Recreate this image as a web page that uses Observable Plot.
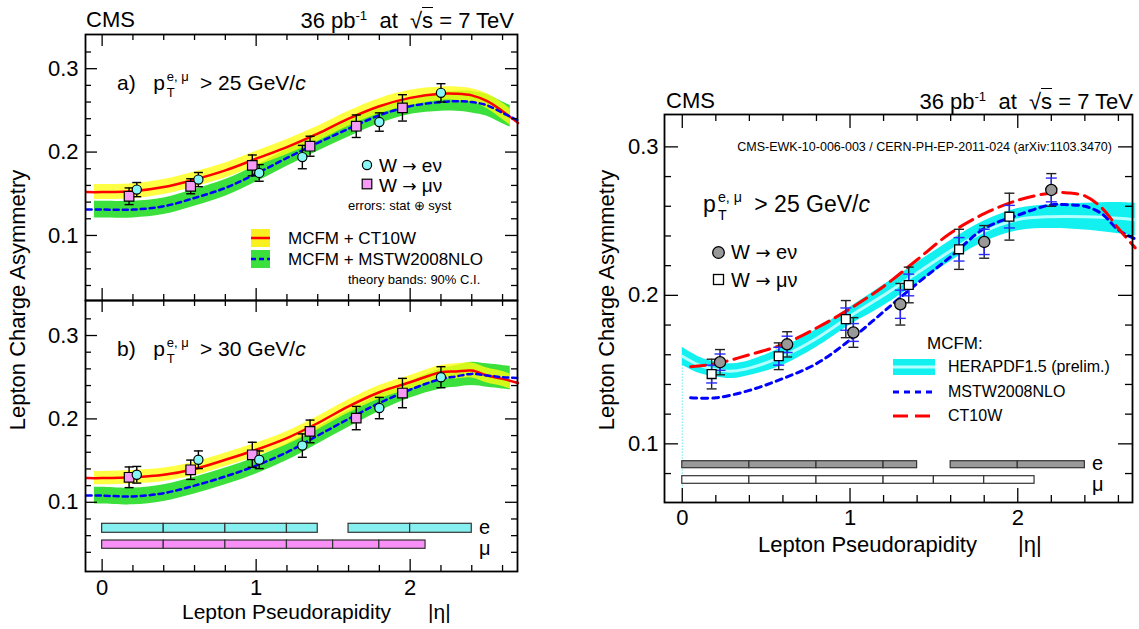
<!DOCTYPE html>
<html><head><meta charset="utf-8">
<script src="https://cdn.jsdelivr.net/npm/d3@7"></script>
<script src="https://cdn.jsdelivr.net/npm/@observablehq/plot@0.6"></script>
<style>
body{margin:0;background:#fff;}
#wrap{position:relative;width:1139px;height:629px;overflow:hidden;background:#fff;font-family:"Liberation Sans",Arial,Helvetica,sans-serif;color:#000;}
.t{position:absolute;white-space:nowrap;line-height:1;}
.plot{position:absolute;}
.st{display:inline-block;position:relative;font-size:0.62em;width:2.7em;height:1em;}
.st .sup{position:absolute;left:0.15em;top:-0.52em;}
.st .sub{position:absolute;left:0.15em;top:0.75em;}
.ar{font-family:"DejaVu Sans",sans-serif;font-size:0.9em;}
</style></head><body><div id="wrap"></div>
<script>
// ---------------- DATA ----------------
// measured points (pT > 25 GeV/c) — shared by panel a) and right panel
const eEta = [0.225, 0.625, 1.02, 1.30, 1.80, 2.20];
const muEta = [0.175, 0.575, 0.975, 1.35, 1.65, 1.95];
const eAsym25 = [0.155, 0.167, 0.175, 0.194, 0.236, 0.271];
const eErr25 = [0.0085, 0.0085, 0.010, 0.014, 0.011, 0.011];
const eStat25 = [0.0055, 0.0055, 0.006, 0.0095, 0.0085, 0.008];
const muAsym25 = [0.147, 0.159, 0.184, 0.207, 0.231, 0.253];
const muErr25 = [0.010, 0.009, 0.0125, 0.012, 0.0135, 0.0158];
const muStat25 = [0.006, 0.006, 0.0075, 0.0073, 0.0079, 0.0076];
// pT > 30 GeV/c
const eAsym30 = [0.133, 0.151, 0.151, 0.168, 0.213, 0.250];
const eErr30 = [0.010, 0.0106, 0.0106, 0.014, 0.0128, 0.0126];
const muAsym30 = [0.130, 0.139, 0.157, 0.185, 0.201, 0.231];
const muErr30 = [0.0124, 0.0116, 0.015, 0.0136, 0.014, 0.0176];

// theory lines (left panels)
const etaLine = [-0.1, 0, 0.2, 0.4, 0.6, 0.8, 1.0, 1.2, 1.4, 1.6, 1.8, 2.0, 2.2, 2.3, 2.4, 2.5, 2.6, 2.7];
const ct10A = [0.152, 0.152, 0.153, 0.158, 0.167, 0.178, 0.192, 0.206, 0.222, 0.240, 0.255, 0.265, 0.270, 0.270, 0.268, 0.261, 0.249, 0.235];
const mstwA = [0.131, 0.131, 0.131, 0.135, 0.145, 0.157, 0.174, 0.193, 0.211, 0.228, 0.244, 0.255, 0.260, 0.261, 0.260, 0.256, 0.247, 0.238];
const ct10B = [0.129, 0.129, 0.130, 0.133, 0.140, 0.151, 0.163, 0.177, 0.195, 0.215, 0.232, 0.244, 0.256, 0.257, 0.258, 0.252, 0.248, 0.243];
const mstwB = [0.108, 0.108, 0.107, 0.111, 0.120, 0.131, 0.144, 0.160, 0.180, 0.200, 0.219, 0.235, 0.248, 0.251, 0.254, 0.252, 0.250, 0.249];
// theory bands (90% C.L.)
const etaBand = [-0.05, 0, 0.2, 0.4, 0.6, 0.8, 1.0, 1.2, 1.4, 1.6, 1.8, 2.0, 2.2, 2.3, 2.4, 2.5, 2.6, 2.65];
const ct10LoA = [0.143, 0.143, 0.144, 0.149, 0.158, 0.169, 0.183, 0.197, 0.213, 0.231, 0.246, 0.256, 0.262, 0.262, 0.260, 0.252, 0.239, 0.232];
const ct10HiA = [0.161, 0.161, 0.162, 0.167, 0.176, 0.187, 0.201, 0.215, 0.231, 0.249, 0.264, 0.274, 0.278, 0.278, 0.276, 0.270, 0.259, 0.252];
const mstwLoA = [0.121, 0.121, 0.121, 0.125, 0.135, 0.147, 0.164, 0.183, 0.201, 0.218, 0.234, 0.245, 0.249, 0.249, 0.247, 0.243, 0.234, 0.230];
const mstwHiA = [0.141, 0.141, 0.141, 0.145, 0.155, 0.167, 0.184, 0.203, 0.221, 0.238, 0.254, 0.265, 0.271, 0.273, 0.273, 0.269, 0.260, 0.256];
const ct10LoB = [0.121, 0.121, 0.122, 0.125, 0.132, 0.143, 0.155, 0.169, 0.187, 0.207, 0.224, 0.236, 0.248, 0.248, 0.249, 0.243, 0.239, 0.236];
const ct10HiB = [0.137, 0.137, 0.138, 0.141, 0.148, 0.159, 0.171, 0.185, 0.203, 0.223, 0.240, 0.252, 0.264, 0.266, 0.267, 0.261, 0.257, 0.254];
const mstwLoB = [0.098, 0.098, 0.097, 0.101, 0.110, 0.121, 0.134, 0.150, 0.170, 0.190, 0.209, 0.225, 0.236, 0.238, 0.240, 0.238, 0.236, 0.235];
const mstwHiB = [0.118, 0.118, 0.117, 0.121, 0.130, 0.141, 0.154, 0.170, 0.190, 0.210, 0.229, 0.245, 0.260, 0.264, 0.268, 0.266, 0.264, 0.263];

// right panel theory
const etaLineR = [0.05, 0.2, 0.4, 0.6, 0.8, 1.0, 1.2, 1.4, 1.6, 1.8, 2.0, 2.2, 2.3, 2.4, 2.5, 2.6, 2.7];
const ct10R = [0.152, 0.154, 0.160, 0.167, 0.178, 0.191, 0.206, 0.224, 0.242, 0.255, 0.264, 0.269, 0.269, 0.267, 0.259, 0.245, 0.232];
const mstwR = [0.131, 0.131, 0.136, 0.144, 0.154, 0.170, 0.189, 0.208, 0.226, 0.245, 0.254, 0.261, 0.261, 0.260, 0.255, 0.244, 0.238];
const heraEta = [0, 0.1, 0.2, 0.3, 0.4, 0.6, 0.8, 1.0, 1.2, 1.4, 1.6, 1.8, 2.0, 2.2, 2.4, 2.6, 2.7];
const heraMid = [0.159, 0.153, 0.150, 0.149, 0.151, 0.159, 0.171, 0.186, 0.200, 0.215, 0.230, 0.243, 0.251, 0.253, 0.253, 0.252, 0.251];
const heraLo = [0.153, 0.1475, 0.145, 0.144, 0.146, 0.153, 0.165, 0.180, 0.193, 0.208, 0.223, 0.236, 0.2435, 0.245, 0.244, 0.2415, 0.240];
const heraHi = [0.165, 0.1585, 0.155, 0.154, 0.156, 0.165, 0.177, 0.192, 0.207, 0.222, 0.237, 0.250, 0.2585, 0.261, 0.262, 0.2625, 0.262];

// eta bins
const eBinLo = [0, 0.4, 0.8, 1.2, 1.6, 2.0];
const eBinHi = [0.4, 0.8, 1.2, 1.4, 2.0, 2.4];
const muBinLo = [0, 0.4, 0.8, 1.2, 1.5, 1.8];
const muBinHi = [0.4, 0.8, 1.2, 1.5, 1.8, 2.1];

// ticks
const xMajorTicks = [0, 1, 2];
const xMinorTicks = [0.2, 0.4, 0.6, 0.8, 1.2, 1.4, 1.6, 1.8, 2.2, 2.4, 2.6];
const yMajorTicks = [0.1, 0.2, 0.3];
const yMinorTicksL = [0.04, 0.06, 0.08, 0.12, 0.14, 0.16, 0.18, 0.22, 0.24, 0.26, 0.28, 0.32];
const yMinorTicksR = [0.08, 0.12, 0.14, 0.16, 0.18, 0.22, 0.24, 0.26, 0.28];

// ---------------- BUILD ----------------
const FONT = '"Liberation Sans", Arial, Helvetica, sans-serif';
const curve = "catmull-rom";
const wrap = document.getElementById("wrap");

const pts = (eta, y, err, stat) => eta.map((x, i) => ({eta: x, y: y[i], err: err[i], stat: stat ? stat[i] : 0}));
const lineRows = (eta, a, b) => eta.map((x, i) => ({eta: x, a: a[i], b: b[i]}));
const bandRows = (eta, l1, h1, l2, h2) => eta.map((x, i) => ({eta: x, l1: l1[i], h1: h1[i], l2: l2[i], h2: h2[i]}));
const bins = (lo, hi) => lo.map((x, i) => ({x1: x, x2: hi[i]}));

const capSym = {draw(ctx, size) { const w = Math.sqrt(size / Math.PI); ctx.moveTo(-w, 0); ctx.lineTo(w, 0); }};

function errMarks(data, key, color, sw, capR) {
  return [
    Plot.ruleX(data, {x: "eta", y1: d => d.y - d[key], y2: d => d.y + d[key], stroke: color, strokeWidth: sw}),
    Plot.dot(data, {x: "eta", y: d => d.y - d[key], symbol: capSym, r: capR, stroke: color, strokeWidth: sw, fill: "none"}),
    Plot.dot(data, {x: "eta", y: d => d.y + d[key], symbol: capSym, r: capR, stroke: color, strokeWidth: sw, fill: "none"})
  ];
}
function frameTicks(yMinor, pw, ph, big, small) {
  const s = {stroke: "black", strokeWidth: 1.3};
  return [
    Plot.tickX(xMajorTicks, {x: d => d, insetTop: ph - big, ...s}),
    Plot.tickX(xMajorTicks, {x: d => d, insetBottom: ph - big, ...s}),
    Plot.tickX(xMinorTicks, {x: d => d, insetTop: ph - small, ...s}),
    Plot.tickX(xMinorTicks, {x: d => d, insetBottom: ph - small, ...s}),
    Plot.tickY(yMajorTicks, {y: d => d, insetRight: pw - big, ...s}),
    Plot.tickY(yMajorTicks, {y: d => d, insetLeft: pw - big, ...s}),
    Plot.tickY(yMinor, {y: d => d, insetRight: pw - small, ...s}),
    Plot.tickY(yMinor, {y: d => d, insetLeft: pw - small, ...s})
  ];
}
function place(el, left, top) { el.classList.add("plot"); el.style.left = left + "px"; el.style.top = top + "px"; wrap.appendChild(el); }

const styleObj = {background: "transparent", overflow: "visible", fontFamily: FONT, color: "black"};
const yAxis = (pad) => Plot.axisY({ticks: yMajorTicks, tickSize: 0, tickPadding: pad, fontSize: 22, tickFormat: d3.format(".1f"), label: null});
const xAxis = (pad) => Plot.axisX({ticks: xMajorTicks, tickSize: 0, tickPadding: pad, fontSize: 22, tickFormat: d3.format("d"), label: null});

function leftPanel(cfg) {
  const pw = 560 - cfg.ml - cfg.mr, ph = cfg.h - cfg.mt - cfg.mb;
  const marks = [
    Plot.areaY(cfg.band, {x: "eta", y1: "l2", y2: "h2", fill: "#3ce03c", curve}),
    Plot.areaY(cfg.band, {x: "eta", y1: "l1", y2: "h1", fill: "#ffff10", fillOpacity: 0.78, curve}),
    Plot.line(cfg.lines, {x: "eta", y: "a", stroke: "#ff0000", strokeWidth: 2.5, curve}),
    Plot.line(cfg.lines, {x: "eta", y: "b", stroke: "#0000ff", strokeWidth: 2.5, strokeDasharray: "5,4", curve}),
    ...errMarks(cfg.mu, "err", "black", 1.4, 4.5),
    ...errMarks(cfg.e, "err", "black", 1.4, 4.5),
    Plot.dot(cfg.mu, {x: "eta", y: "y", symbol: "square", r: 5.4, fill: "#f59af5", stroke: "black", strokeWidth: 1.2}),
    Plot.dot(cfg.e, {x: "eta", y: "y", r: 4.6, fill: "#86f6f6", stroke: "black", strokeWidth: 1.2}),
    ...(cfg.extra || []),
    ...frameTicks(yMinorTicksL, pw, ph, 12, 6),
    yAxis(7),
    ...(cfg.xaxis ? [xAxis(8)] : []),
    Plot.frame({stroke: "black", strokeWidth: 1.8})
  ];
  return Plot.plot({
    width: 560, height: cfg.h, marginTop: cfg.mt, marginBottom: cfg.mb, marginLeft: cfg.ml, marginRight: cfg.mr,
    x: {domain: [-0.108, 2.697], axis: null}, y: {domain: cfg.yd, axis: null},
    style: styleObj, marks
  });
}

const pA = leftPanel({
  h: 302, mt: 34, mb: 2, ml: 85, mr: 43, yd: [0.022, 0.341],
  band: bandRows(etaBand, ct10LoA, ct10HiA, mstwLoA, mstwHiA),
  lines: lineRows(etaLine, ct10A, mstwA),
  e: pts(eEta, eAsym25, eErr25), mu: pts(muEta, muAsym25, muErr25)
});
place(pA, 0, 0);

const pB = leftPanel({
  h: 331, mt: 2, mb: 58, ml: 85, mr: 43, yd: [0.017, 0.342], xaxis: true,
  band: bandRows(etaBand, ct10LoB, ct10HiB, mstwLoB, mstwHiB),
  lines: lineRows(etaLine, ct10B, mstwB),
  e: pts(eEta, eAsym30, eErr30), mu: pts(muEta, muAsym30, muErr30),
  extra: [
    Plot.rect(bins(eBinLo, eBinHi), {x1: "x1", x2: "x2", insetTop: 223.3, insetBottom: 38.7, fill: "#86f0f0", stroke: "#333", strokeWidth: 1.2}),
    Plot.rect(bins(muBinLo, muBinHi), {x1: "x1", x2: "x2", insetTop: 240, insetBottom: 22.7, fill: "#f890f8", stroke: "#333", strokeWidth: 1.2})
  ]
});
place(pB, 0, 298);

// right panel
const R = {w: 549, h: 470, mt: 34, mb: 48, ml: 74, mr: 7};
const Rpw = R.w - R.ml - R.mr, Rph = R.h - R.mt - R.mb;
const yDomR = [0.0605, 0.3218];
const heraRows = heraEta.map((x, i) => ({eta: x, lo: heraLo[i], hi: heraHi[i], mid: heraMid[i]}));
const eR = pts(eEta, eAsym25, eErr25, eStat25), muR = pts(muEta, muAsym25, muErr25, muStat25);
const pR = Plot.plot({
  width: R.w, height: R.h, marginTop: R.mt, marginBottom: R.mb, marginLeft: R.ml, marginRight: R.mr,
  x: {domain: [-0.106, 2.684], axis: null}, y: {domain: yDomR, axis: null},
  style: styleObj,
  marks: [
    Plot.ruleX(heraRows.slice(0, 1), {x: "eta", y1: "lo", y2: () => yDomR[0], stroke: "#20e0e0", strokeWidth: 1, strokeDasharray: "1,2"}),
    Plot.areaY(heraRows, {x: "eta", y1: "lo", y2: "hi", fill: "#12f0f0", curve}),
    Plot.line(heraRows, {x: "eta", y: "mid", stroke: "#b4ffff", strokeWidth: 3, curve}),
    Plot.line(lineRows(etaLineR, ct10R, mstwR), {x: "eta", y: "b", stroke: "#0000ff", strokeWidth: 3, strokeDasharray: "6,5", curve}),
    Plot.line(lineRows(etaLineR, ct10R, mstwR), {x: "eta", y: "a", stroke: "#ff0000", strokeWidth: 3, strokeDasharray: "15,7", curve}),
    ...errMarks(muR, "err", "#222", 1.4, 5),
    ...errMarks(eR, "err", "#222", 1.4, 5),
    ...errMarks(muR, "stat", "#2a2aff", 1.4, 5.5),
    ...errMarks(eR, "stat", "#2a2aff", 1.4, 5.5),
    Plot.dot(muR, {x: "eta", y: "y", symbol: "square", r: 5, fill: "white", stroke: "black", strokeWidth: 1.3}),
    Plot.dot(eR, {x: "eta", y: "y", r: 5.6, fill: "#999999", stroke: "black", strokeWidth: 1.3}),
    Plot.rect(bins(eBinLo, eBinHi), {x1: "x1", x2: "x2", insetTop: 346.7, insetBottom: Rph - 353.7, fill: "#9a9a9a", stroke: "#333", strokeWidth: 1.2}),
    Plot.rect(bins(muBinLo, muBinHi), {x1: "x1", x2: "x2", insetTop: 361.7, insetBottom: Rph - 369.3, fill: "white", stroke: "#333", strokeWidth: 1.2}),
    ...frameTicks(yMinorTicksR, Rpw, Rph, 14, 7),
    yAxis(6),
    xAxis(7),
    Plot.frame({stroke: "black", strokeWidth: 1.8})
  ]
});
place(pR, 590, 80);

// ---------------- TEXT ----------------
function txt(html, x, cy, fs, opt = {}) {
  const d = document.createElement("div");
  d.className = "t";
  d.innerHTML = html;
  d.style.fontSize = fs + "px";
  if (opt.rotate) {
    d.style.left = x + "px"; d.style.top = cy + "px";
    d.style.transform = "translate(-50%,-50%) rotate(-90deg)";
  } else {
    d.style.top = (cy - 0.49 * fs) + "px";
    if (opt.right) d.style.right = (1139 - x) + "px"; else d.style.left = x + "px";
  }
  wrap.appendChild(d);
  return d;
}
function svgAt(x, y, w, h, inner) {
  const d = document.createElement("div");
  d.style.position = "absolute"; d.style.left = x + "px"; d.style.top = y + "px";
  d.innerHTML = `<svg width="${w}" height="${h}" style="display:block;overflow:visible">${inner}</svg>`;
  wrap.appendChild(d);
}
const ptHTML = cut => `p<span class="st"><span class="sup">e, μ</span><span class="sub">T</span></span>&gt; ${cut} GeV/<i>c</i>`;
const lumi = `36 pb<sup style="font-size:0.6em;vertical-align:0.6em">-1</sup>&nbsp; at &nbsp;√<span style="border-top:1.5px solid #000">s</span> = 7 TeV`;
const arrow = `<span class="ar">→</span>`;

// left
txt("CMS", 86, 20, 22);
txt(lumi, 514, 20, 22, {right: true});
txt("a)&nbsp;&nbsp; " + ptHTML(25), 117, 82, 21);
txt("b)&nbsp;&nbsp; " + ptHTML(30), 117, 348, 21);
txt("Lepton Charge Asymmetry", 18, 300, 22, {rotate: true});
txt("Lepton Pseudorapidity", 182, 611, 21);
txt("|η|", 428, 611, 21);
txt("e", 479, 527, 20);
txt("μ", 479, 548, 20);
svgAt(360, 158, 14, 14, `<circle cx="7" cy="7" r="4.6" fill="#86f6f6" stroke="black" stroke-width="1.2"/>`);
svgAt(360, 177, 14, 14, `<rect x="2.2" y="2.2" width="9.6" height="9.6" fill="#f59af5" stroke="black" stroke-width="1.2"/>`);
txt(`W ${arrow} eν`, 379, 165, 19);
txt(`W ${arrow} μν`, 379, 185, 19);
txt("errors: stat ⊕ syst", 348, 205, 13);
svgAt(251, 229, 20, 18, `<rect x="0" y="0" width="19" height="18" fill="#f8f020"/><line x1="0" x2="19" y1="9" y2="9" stroke="#ff0000" stroke-width="2.5"/>`);
svgAt(251, 250, 20, 18, `<rect x="0" y="0" width="19" height="18" fill="#3ce03c"/><line x1="0" x2="19" y1="9" y2="9" stroke="#0000ff" stroke-width="2.5" stroke-dasharray="5,3"/>`);
txt("MCFM + CT10W", 288, 238, 17);
txt("MCFM + MSTW2008NLO", 288, 259, 17);
txt("theory bands: 90% C.I.", 348, 279, 13);

// right
txt("CMS", 666, 101, 22);
txt(lumi, 1133, 101, 22, {right: true});
txt("CMS-EWK-10-006-003 / CERN-PH-EP-2011-024 (arXiv:1103.3470)", 1112, 147, 12.5, {right: true});
txt(ptHTML(25), 703, 204, 23);
svgAt(711, 245, 15, 15, `<circle cx="7.5" cy="7.5" r="5.8" fill="#999" stroke="black" stroke-width="1.3"/>`);
svgAt(712, 273, 13, 13, `<rect x="1.5" y="1.5" width="10" height="10" fill="white" stroke="black" stroke-width="1.3"/>`);
txt(`W ${arrow} eν`, 731, 252, 20);
txt(`W ${arrow} μν`, 731, 280, 20);
txt("MCFM:", 927, 343, 17);
svgAt(893, 359, 42, 16, `<rect x="0" y="0" width="42" height="16" fill="#12f0f0"/><line x1="0" x2="42" y1="8" y2="8" stroke="#b4ffff" stroke-width="3"/>`);
svgAt(893, 389, 42, 6, `<line x1="0" x2="42" y1="3" y2="3" stroke="#0000ff" stroke-width="3" stroke-dasharray="6,5"/>`);
svgAt(893, 413, 42, 6, `<line x1="0" x2="42" y1="3" y2="3" stroke="#ff0000" stroke-width="3" stroke-dasharray="15,7"/>`);
txt("HERAPDF1.5 (prelim.)", 948, 367, 16);
txt("MSTW2008NLO", 948, 392, 16);
txt("CT10W", 948, 416, 16);
txt("e", 1092, 463, 20);
txt("μ", 1092, 484, 20);
txt("Lepton Charge Asymmetry", 607, 300, 22, {rotate: true});
txt("Lepton Pseudorapidity", 758, 545, 22);
txt("|η|", 1018, 545, 22);
</script></body></html>
